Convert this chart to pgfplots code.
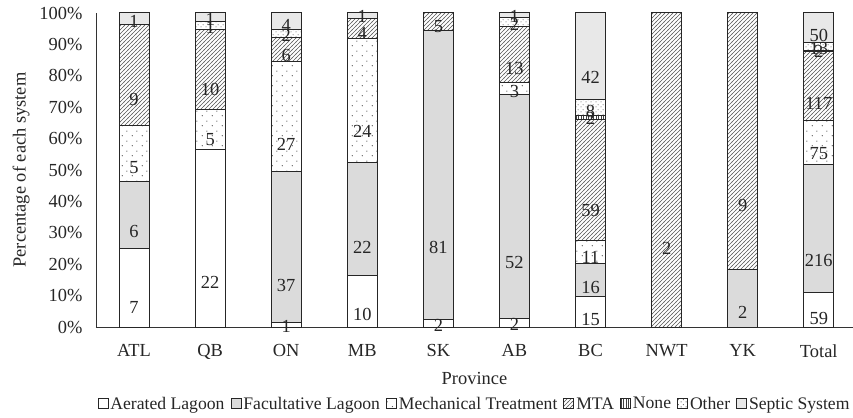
\documentclass[border=0pt]{standalone}
\usepackage{pgfplots}
\pgfplotsset{compat=1.18}
\usepackage{pgfplotstable}
\usepackage{fontspec}
\setmainfont{Liberation Serif}
\usetikzlibrary{patterns,patterns.meta}

\tikzdeclarepattern{
  name=mtahatch, type=uncolored,
  bounding box={(-0.5bp,-0.5bp) and (4.5bp,4.5bp)},
  tile size={(4bp,4bp)},
  code={\draw[line width=0.5bp] (-0.5bp,-0.5bp) -- (4.5bp,4.5bp);}
}
\tikzdeclarepattern{
  name=mechdots, type=uncolored,
  bounding box={(0bp,0bp) and (10bp,10bp)},
  tile size={(10bp,10bp)},
  code={\fill (2.5bp,2.5bp) circle (0.65bp); \fill (7.5bp,7.5bp) circle (0.65bp);}
}
\tikzdeclarepattern{
  name=otherdots, type=uncolored,
  bounding box={(0bp,0bp) and (5bp,5bp)},
  tile size={(5bp,5bp)},
  code={\fill (1.25bp,1.25bp) circle (0.6bp); \fill (3.75bp,3.75bp) circle (0.6bp);}
}
\tikzdeclarepattern{
  name=nonelines, type=uncolored,
  bounding box={(0bp,-0.5bp) and (2.5bp,3bp)},
  tile size={(2.5bp,2.5bp)},
  code={\draw[line width=0.8bp] (1.25bp,-0.5bp) -- (1.25bp,3bp);}
}

\definecolor{facgray}{HTML}{DBDBDB}
\definecolor{sepgray}{HTML}{E8E8E8}

% x: 0 ATL, 1 QB, 2 ON, 3 MB, 4 SK, 5 AB, 6 BC, 7 NWT, 8 YK, 9 Total
% y: percentage of province total, c: count
\pgfplotstableread{
x y c
0 25.0 7
1 56.4 22
2 1.3 1
3 16.4 10
4 2.3 2
5 2.7 2
6 9.8 15
7 0 {}
8 0 {}
9 11.1 59
}\aerated
\pgfplotstableread{
x y c
0 21.4 6
1 0 {}
2 48.1 37
3 36.1 22
4 92.0 81
5 71.2 52
6 10.5 16
7 0 {}
8 18.2 2
9 40.6 216
}\facult
\pgfplotstableread{
x y c
0 17.9 5
1 12.8 5
2 35.1 27
3 39.3 24
4 0 {}
5 4.1 3
6 7.2 11
7 0 {}
8 0 {}
9 14.1 75
}\mech
\pgfplotstableread{
x y c
0 32.1 9
1 25.6 10
2 7.8 6
3 6.6 4
4 5.7 5
5 17.8 13
6 38.6 59
7 100 2
8 81.8 9
9 22.0 117
}\mta
\pgfplotstableread{
x y c
0 0 {}
1 0 {}
2 0 {}
3 0 {}
4 0 {}
5 0 {}
6 1.3 2
7 0 {}
8 0 {}
9 0.4 2
}\nonesys
\pgfplotstableread{
x y c
0 0 {}
1 2.6 1
2 2.6 2
3 0 {}
4 0 {}
5 2.7 2
6 5.2 8
7 0 {}
8 0 {}
9 2.4 13
}\other
\pgfplotstableread{
x y c
0 3.6 1
1 2.6 1
2 5.1 4
3 1.6 1
4 0 {}
5 1.5 1
6 27.4 42
7 0 {}
8 0 {}
9 9.4 50
}\septic

\begin{document}
\begin{tikzpicture}
\begin{axis}[
  name=ax, at={(0,0)}, anchor=south west,
  scale only axis, width=757bp, height=314bp,
  font=\fontsize{18.5}{22}\selectfont,
  ybar stacked, bar width=30bp,
  xmin=-0.5, xmax=9.45, ymin=0, ymax=100,
  axis x line*=bottom, axis y line*=left,
  axis line style={black!80, line width=0.8bp, -},
  major tick length=0pt,
  xtick=data,
  xticklabels={ATL,QB,ON,MB,SK,AB,BC,NWT,YK,Total},
  ytick={0,10,...,100},
  yticklabel={\pgfmathprintnumber{\tick}\%},
  /pgf/number format/assume math mode=true,
  xticklabel style={yshift=-14bp, text=black!85},
  yticklabel style={xshift=-10bp, text=black!85},
  xlabel={Province},
  ylabel={Percentage of each system},
  xlabel style={at={(axis description cs:0.5,-0.163)}, anchor=center, text=black!85},
  ylabel style={at={(axis description cs:-0.099,0.5)}, anchor=center, text=black!85},
  every axis plot/.append style={draw=black!85, line width=1bp},
  point meta=explicit symbolic,
  nodes near coords,
  visualization depends on={rawy \as \rawy},
  every node near coord/.append style={anchor=center, text=black!85,
     shift={(axis direction cs:0,-\rawy/4)}, font=\fontsize{18.5}{22}\selectfont},
  legend style={at={(axis description cs:0.5,-0.245)}, anchor=center, draw=none,
     legend columns=-1, font=\fontsize{17.7}{20}\selectfont,
     /tikz/every even column/.append style={column sep=4bp},
     text=black!85},
  legend image code/.code={\draw[#1, line width=0.9bp] (0bp,-5bp) rectangle (10bp,5bp);},
]
\addplot[fill=white] table[x=x, y=y, meta=c] {\aerated};
\addlegendentry{Aerated Lagoon}
\addplot[fill=facgray] table[x=x, y=y, meta=c] {\facult};
\addlegendentry{Facultative Lagoon}
\addplot[fill=white, postaction={pattern=mechdots, pattern color=black!70}] table[x=x, y=y, meta=c] {\mech};
\addlegendentry{Mechanical Treatment}
\addplot[fill=white, postaction={pattern=mtahatch, pattern color=black!65}] table[x=x, y=y, meta=c] {\mta};
\addlegendentry{MTA}
\addplot[fill=white, postaction={pattern=nonelines, pattern color=black!75}] table[x=x, y=y, meta=c] {\nonesys};
\addlegendentry{None}
\addplot[fill=white, postaction={pattern=otherdots, pattern color=black!70}] table[x=x, y=y, meta=c] {\other};
\addlegendentry{Other}
\addplot[fill=sepgray] table[x=x, y=y, meta=c] {\septic};
\addlegendentry{Septic System}
\end{axis}
\pgfresetboundingbox
\path[use as bounding box] (-96bp,-91bp) rectangle (757bp,327bp);
\end{tikzpicture}
\end{document}
